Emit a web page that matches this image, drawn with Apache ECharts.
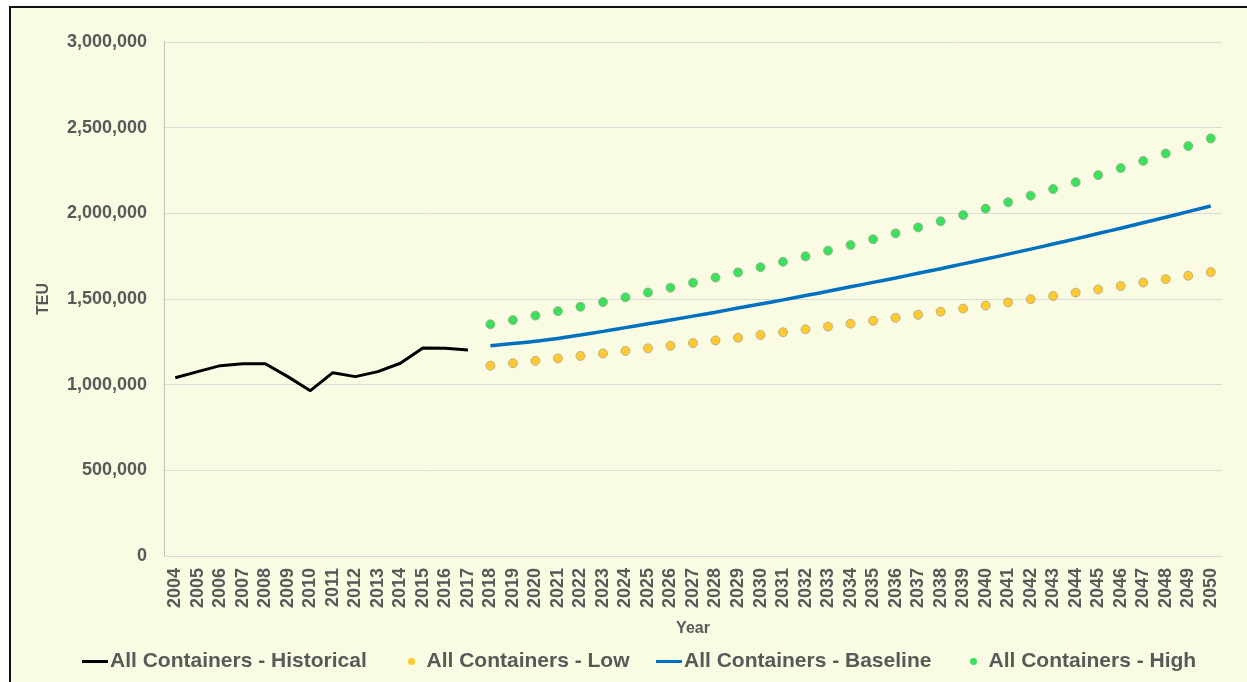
<!DOCTYPE html>
<html>
<head>
<meta charset="utf-8">
<script src="https://cdn.jsdelivr.net/npm/echarts@6/dist/echarts.min.js"></script>
<style>
  html, body { margin: 0; padding: 0; background: #ffffff; }
  #bg { position: absolute; left: 9px; top: 6px; width: 1238px; height: 676px;
        background: #F9FBE3; border-left: 2px solid #111; border-top: 2px solid #111; box-sizing: border-box; }
  #chart { position: absolute; left: 0; top: 0; width: 1247px; height: 682px; }
</style>
</head>
<body>
<div id="bg"></div>
<div id="chart"></div>
<script>
// Categories (years)
const years = ['2004','2005','2006','2007','2008','2009','2010','2011','2012','2013','2014','2015','2016','2017',
  '2018','2019','2020','2021','2022','2023','2024','2025','2026','2027','2028','2029','2030','2031','2032','2033',
  '2034','2035','2036','2037','2038','2039','2040','2041','2042','2043','2044','2045','2046','2047','2048','2049','2050'];

// Historical 2004-2017
const historical = [1040000, 1076000, 1111000, 1122000, 1122000, 1047000, 965000, 1070000, 1047000, 1076000,
  1125000, 1214000, 1212000, 1202000];

// Forecast 2018-2050
const low = [1111000, 1125000, 1139000, 1153000, 1168000, 1182000, 1197000, 1212000, 1227000, 1243000, 1258000,
  1274000, 1290000, 1306000, 1323000, 1339000, 1356000, 1373000, 1390000, 1408000, 1426000, 1444000, 1462000,
  1480000, 1499000, 1518000, 1537000, 1556000, 1576000, 1596000, 1616000, 1636000, 1657000];
const baseline = [1227000, 1240000, 1254000, 1270000, 1290000, 1311000, 1333000, 1355000, 1377000, 1400000, 1423000,
  1447000, 1471000, 1495000, 1520000, 1545000, 1571000, 1597000, 1623000, 1650000, 1677000, 1705000, 1733000,
  1762000, 1791000, 1821000, 1851000, 1882000, 1913000, 1945000, 1977000, 2010000, 2043000];
const high = [1352000, 1377000, 1403000, 1429000, 1455000, 1482000, 1510000, 1538000, 1566000, 1595000, 1625000,
  1655000, 1686000, 1717000, 1749000, 1782000, 1815000, 1849000, 1883000, 1918000, 1954000, 1990000, 2027000,
  2065000, 2103000, 2142000, 2182000, 2223000, 2264000, 2306000, 2349000, 2393000, 2437000];

const yTicks = [0, 500000, 1000000, 1500000, 2000000, 2500000, 3000000];

const padAfter = (arr) => arr.concat(new Array(years.length - arr.length).fill(null));
const padBefore = (arr) => new Array(years.length - arr.length).fill(null).concat(arr);

const FONT = "'Liberation Sans', Arial, sans-serif";
const GRAY = '#595959';
const LINE_ICON = 'path://M0,0h26v3h-26z';

const NAMES = ['All Containers - Historical', 'All Containers - Low', 'All Containers - Baseline', 'All Containers - High'];

function legendAt(left, item) {
  return {
    bottom: 10,
    left: left,
    padding: 0,
    itemWidth: 26,
    itemHeight: 7,
    textStyle: { color: GRAY, fontWeight: 'bold', fontSize: 21, fontFamily: FONT, padding: [0, 0, 0, -3] },
    data: [item]
  };
}

const chart = echarts.init(document.getElementById('chart'), null, { renderer: 'canvas' });
chart.setOption({
  backgroundColor: 'transparent',
  animation: false,
  textStyle: { fontFamily: FONT },
  grid: { left: 164, right: 25, top: 42, bottom: 126, containLabel: false },
  xAxis: {
    type: 'category',
    data: years,
    boundaryGap: true,
    name: 'Year',
    nameLocation: 'middle',
    nameGap: 65,
    nameTextStyle: { color: GRAY, fontWeight: 'bold', fontSize: 16, fontFamily: FONT },
    axisLine: { show: true, lineStyle: { color: '#d9d9d9', width: 1 } },
    axisTick: { show: false },
    axisLabel: { rotate: 90, interval: 0, margin: 12, color: GRAY, fontWeight: 'bold', fontSize: 18, fontFamily: FONT }
  },
  yAxis: {
    type: 'value',
    min: yTicks[0],
    max: yTicks[yTicks.length - 1],
    interval: yTicks[1] - yTicks[0],
    name: 'TEU',
    nameLocation: 'middle',
    nameRotate: 90,
    nameGap: 112,
    nameTextStyle: { color: GRAY, fontWeight: 'bold', fontSize: 16, fontFamily: FONT },
    axisLine: { show: true, lineStyle: { color: '#bfbfbf', width: 1 } },
    axisTick: { show: false },
    splitLine: { show: true, lineStyle: { color: '#dcdcd4', width: 1 } },
    axisLabel: {
      margin: 17, color: GRAY, fontWeight: 'bold', fontSize: 18, fontFamily: FONT,
      formatter: (v) => v.toLocaleString('en-US')
    }
  },
  legend: [
    legendAt(82, { name: NAMES[0], icon: LINE_ICON, itemStyle: { color: '#000000' } }),
    legendAt(408, { name: NAMES[1], icon: 'circle', itemStyle: { borderWidth: 0 } }),
    legendAt(656, { name: NAMES[2], icon: LINE_ICON, itemStyle: { color: '#0070C0' } }),
    legendAt(970, { name: NAMES[3], icon: 'circle', itemStyle: { borderWidth: 0 } })
  ],
  series: [
    {
      name: NAMES[0],
      type: 'line',
      data: padAfter(historical),
      symbol: 'none',
      lineStyle: { color: '#000000', width: 3 },
      itemStyle: { color: '#000000' },
      z: 3
    },
    {
      name: NAMES[1],
      type: 'scatter',
      data: padBefore(low),
      symbol: 'circle',
      symbolSize: 9,
      itemStyle: { color: '#FFBE00', borderColor: '#b0a48a', borderWidth: 1 },
      z: 2
    },
    {
      name: NAMES[2],
      type: 'line',
      data: padBefore(baseline),
      symbol: 'none',
      smooth: true,
      lineStyle: { color: '#0070C0', width: 3.5 },
      itemStyle: { color: '#0070C0' },
      z: 3
    },
    {
      name: NAMES[3],
      type: 'scatter',
      data: padBefore(high),
      symbol: 'circle',
      symbolSize: 9,
      itemStyle: { color: '#0BDB3A', borderColor: '#96a88a', borderWidth: 1 },
      z: 2
    }
  ]
});
</script>
</body>
</html>
